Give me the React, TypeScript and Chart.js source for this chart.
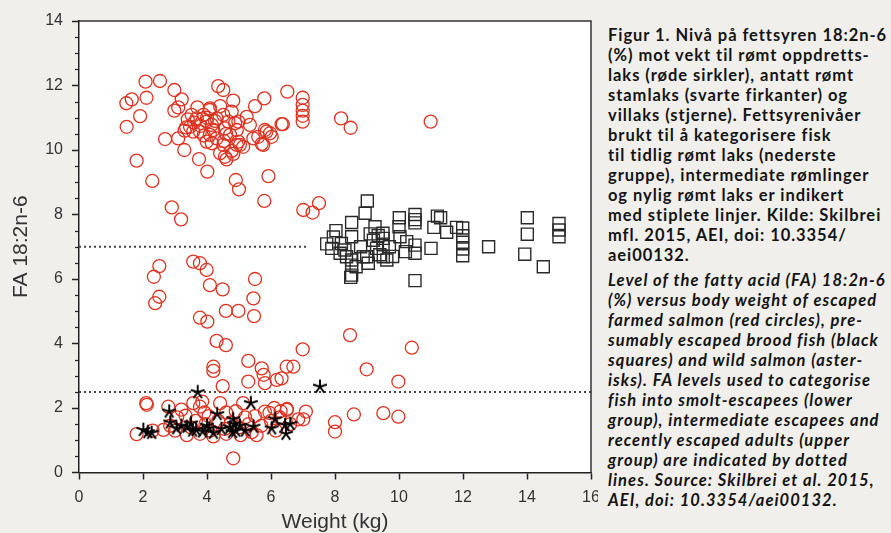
import React, { useEffect, useRef } from 'react';
import { Chart, registerables } from 'chart.js';

Chart.register(...registerables);

// ---------- data (weight kg, FA 18:2n-6 %) ----------
const farmedUpper: [number, number][] = [
  [1.48, 11.45], [1.65, 11.57], [1.49, 10.72], [1.91, 11.05], [2.08, 12.12], [2.53, 12.14],
  [2.11, 11.62], [1.8, 9.67], [2.29, 9.04], [2.69, 10.34], [2.98, 11.86], [3.21, 11.57],
  [2.98, 11.22], [3.1, 11.32], [3.1, 10.36], [3.29, 10.0], [2.9, 8.22], [3.19, 7.85],
  [3.75, 9.72], [4.01, 9.33], [3.7, 11.32], [4.35, 11.98], [4.51, 11.86], [4.82, 11.53],
  [4.41, 11.36], [4.09, 11.29], [5.5, 11.36], [5.79, 11.6], [6.33, 10.8], [6.02, 10.41],
  [5.86, 10.57], [5.71, 10.19], [5.45, 10.36], [5.92, 9.19], [5.79, 8.42], [4.9, 9.07],
  [5.0, 8.78], [4.61, 9.71], [4.82, 9.88], [4.41, 9.9], [5.13, 10.1], [4.98, 10.26],
  [4.15, 10.21], [4.53, 10.28], [6.51, 11.81], [6.99, 11.62], [6.99, 11.4], [6.99, 11.22],
  [6.99, 11.06], [6.99, 10.88], [6.37, 10.8], [8.19, 10.98], [8.49, 10.69], [10.99, 10.88],
  [7.01, 8.14], [7.3, 8.06], [7.5, 8.35],
  [3.52, 11.09], [3.68, 10.98], [3.47, 10.72], [3.57, 10.57], [3.89, 11.09], [3.99, 10.88],
  [4.09, 11.24], [4.15, 10.78], [4.3, 10.98], [4.51, 11.09], [4.56, 10.67], [4.67, 10.88],
  [4.72, 10.47], [4.77, 11.19], [4.88, 10.83], [4.93, 10.62], [4.09, 10.47], [4.3, 10.36],
  [4.51, 10.16], [4.56, 9.79], [4.77, 9.97], [4.93, 10.16], [3.99, 10.26], [3.78, 10.57],
  [4.2, 10.62], [4.98, 10.88], [5.24, 11.03], [5.34, 10.78], [5.6, 10.41], [5.81, 10.62],
  [5.97, 10.52], [5.76, 10.16], [5.03, 10.16], [3.8, 10.75], [3.9, 10.45], [4.25, 10.9],
  [4.6, 10.5], [3.6, 10.85], [4.0, 11.0], [3.3, 10.6], [3.35, 10.7], [3.4, 10.95],
];

const farmedMiddle: [number, number][] = [
  [2.51, 6.4], [2.34, 6.07], [2.51, 5.45], [2.38, 5.25], [3.57, 6.54], [3.78, 6.49],
  [3.99, 6.28], [4.09, 5.81], [4.49, 5.68], [3.78, 4.8], [4.01, 4.68], [4.59, 5.01],
  [4.98, 5.01], [5.5, 6.0], [5.45, 5.4], [5.47, 4.85], [4.3, 4.08], [4.59, 3.95],
  [4.2, 3.28], [4.2, 3.15], [5.29, 3.46], [4.49, 2.68], [5.29, 2.82], [5.71, 3.23],
  [5.77, 3.03], [5.81, 2.77], [6.18, 2.87], [6.33, 2.92], [6.49, 3.28], [6.7, 3.28],
  [6.99, 3.82], [8.47, 4.26], [10.4, 3.87], [8.99, 3.2], [9.98, 2.82],
];

const farmedLower: [number, number][] = [
  [2.1, 2.15], [2.12, 2.1], [1.8, 1.19], [2.64, 1.32], [2.79, 2.04], [3.07, 1.71],
  [3.33, 1.76], [3.57, 2.15], [3.78, 2.04], [3.92, 1.86], [4.41, 2.15], [4.6, 1.86],
  [5.13, 2.15], [5.19, 1.71], [5.55, 1.16], [5.81, 1.89], [6.27, 1.71], [6.5, 1.97],
  [3.37, 1.16], [3.78, 1.2], [4.2, 1.12], [5.05, 1.16], [4.82, 0.44], [6.3, 1.9],
  [6.49, 1.94], [6.85, 1.65], [7.01, 1.65], [7.09, 1.89], [8.0, 1.56], [8.0, 1.27],
  [8.59, 1.8], [9.51, 1.84], [9.98, 1.73], [2.85, 1.45], [3.0, 1.3], [3.5, 1.4],
  [3.65, 1.6], [3.95, 1.5], [4.1, 1.3], [4.35, 1.6], [4.55, 1.35], [4.75, 1.55],
  [5.0, 1.4], [5.3, 1.5], [5.5, 1.75], [5.7, 1.45], [6.0, 1.6], [6.15, 1.3],
  [6.6, 1.5], [3.2, 1.95], [4.05, 1.75], [4.9, 1.9], [5.95, 1.85], [2.3, 1.3],
  [4.6, 1.2], [5.4, 1.25], [3.85, 2.2], [6.1, 2.0],
];

const broodFish: [number, number][] = [
  [9.01, 8.42], [8.94, 8.04], [8.52, 7.75], [8.03, 7.5], [7.74, 7.09], [8.52, 7.31],
  [9.25, 7.62], [9.5, 7.42], [9.5, 7.26], [9.5, 7.08], [10.01, 7.9], [10.5, 8.0],
  [10.5, 7.84], [10.5, 7.74], [11.2, 7.95], [11.09, 7.6], [11.49, 7.45], [11.8, 7.6],
  [11.99, 7.58], [11.99, 7.34], [11.99, 7.14], [11.99, 6.93], [11.99, 6.72], [12.8, 7.0],
  [14.01, 7.9], [14.01, 7.39], [13.93, 6.77], [14.51, 6.38], [15.0, 7.72], [15.0, 7.52],
  [15.0, 7.31], [10.0, 7.62], [10.03, 7.31], [10.24, 7.16], [10.5, 7.05], [10.5, 6.8],
  [11.0, 6.95], [10.5, 5.95], [7.95, 7.3], [7.9, 6.95], [8.31, 6.9], [8.16, 6.8],
  [8.36, 6.69], [8.52, 6.59], [8.52, 6.43], [8.52, 6.12], [8.99, 6.69], [9.04, 6.49],
  [9.62, 6.59], [9.1, 7.4], [9.2, 7.2], [9.3, 6.95], [9.4, 6.75], [8.49, 6.05],
  [8.66, 6.38], [8.8, 7.0], [9.7, 7.0], [9.8, 6.7], [10.2, 6.85], [11.3, 7.9],
  [8.2, 7.1], [9.35, 7.35], [8.88, 6.69], [9.51, 6.69],
];

const wildSalmon: [number, number][] = [
  [2.01, 1.32], [2.27, 1.23], [2.15, 1.25], [3.71, 2.49], [5.37, 2.15], [2.82, 1.89],
  [4.32, 1.81], [4.82, 1.65], [6.13, 1.65], [2.85, 1.55], [3.05, 1.37], [3.37, 1.42],
  [3.5, 1.52], [3.66, 1.32], [3.86, 1.27], [4.07, 1.37], [4.2, 1.23], [4.72, 1.4],
  [4.85, 1.5], [4.9, 1.3], [5.03, 1.45], [5.45, 1.42], [6.02, 1.37], [6.47, 1.2],
  [6.44, 1.47], [6.6, 1.5], [7.53, 2.66], [3.2, 1.45], [4.45, 1.35], [5.2, 1.3],
  [4.0, 1.45], [3.55, 1.3], [4.8, 1.25],
];

const upperThreshold: [number, number][] = [[0, 7], [7.1, 7]];
const lowerThreshold: [number, number][] = [[0, 2.5], [16, 2.5]];

const xTickValues = [0, 2, 4, 6, 8, 10, 12, 14, 16];
const yTickValues = [0, 2, 4, 6, 8, 10, 12, 14];
const yMinorTickValues = [0.5, 1, 1.5, 2.5, 3, 3.5, 4.5, 5, 5.5, 6.5, 7, 7.5, 8.5, 9, 9.5, 10.5, 11, 11.5, 12.5, 13, 13.5];

const xTitle = 'Weight (kg)';
const yTitle = 'FA 18:2n-6';

const captionNo = [
  'Figur 1. Nivå på fettsyren 18:2n-6',
  '(%) mot vekt til rømt oppdretts-',
  'laks (røde sirkler), antatt rømt',
  'stamlaks (svarte firkanter) og',
  'villaks (stjerne). Fettsyrenivåer',
  'brukt til å kategorisere fisk',
  'til tidlig rømt laks (nederste',
  'gruppe), intermediate rømlinger',
  'og nylig rømt laks er indikert',
  'med stiplete linjer. Kilde: Skilbrei',
  'mfl. 2015, AEI, doi: 10.3354/',
  'aei00132.',
];

const captionEn = [
  'Level of the fatty acid (FA) 18:2n-6',
  '(%) versus body weight of escaped',
  'farmed salmon (red circles), pre-',
  'sumably escaped brood fish (black',
  'squares) and wild salmon (aster-',
  'isks). FA levels used to categorise',
  'fish into smolt-escapees (lower',
  'group), intermediate escapees and',
  'recently escaped adults (upper',
  'group) are indicated by dotted',
  'lines. Source: Skilbrei et al. 2015,',
  'AEI, doi: 10.3354/aei00132.',
];

const BG = '#f0efeb';
const FONT = "'Liberation Sans', Arial, sans-serif";

function toPts(a: [number, number][]) {
  return a.map(([x, y]) => ({ x, y }));
}

function makeAsterisk(size: number, color: string, lw: number) {
  const c = document.createElement('canvas');
  c.width = size;
  c.height = size;
  const ctx = c.getContext('2d')!;
  ctx.strokeStyle = color;
  ctx.lineWidth = lw;
  const r = size / 2 - 0.8;
  const cx = size / 2;
  ctx.beginPath();
  for (let i = 0; i < 5; i++) {
    const a = -Math.PI / 2 + (i * 2 * Math.PI) / 5;
    ctx.moveTo(cx, cx);
    ctx.lineTo(cx + r * Math.cos(a), cx + r * Math.sin(a));
  }
  ctx.stroke();
  return c;
}

const framePlugin = {
  id: 'framePlugin',
  beforeDraw(chart: any) {
    const { ctx, chartArea: a } = chart;
    ctx.save();
    ctx.fillStyle = '#ffffff';
    ctx.fillRect(a.left, a.top, a.right - a.left, a.bottom - a.top);
    ctx.restore();
  },
  afterDraw(chart: any) {
    const { ctx, chartArea: a, scales } = chart;
    ctx.save();
    ctx.strokeStyle = '#333';
    ctx.lineWidth = 1.5;
    ctx.beginPath();
    ctx.moveTo(a.left, a.top);
    ctx.lineTo(a.right, a.top);
    ctx.lineTo(a.right, a.bottom);
    ctx.stroke();
    ctx.strokeStyle = '#222';
    ctx.lineWidth = 1.2;
    for (const v of yMinorTickValues) {
      const py = Math.round(scales.y.getPixelForValue(v)) + 0.5;
      ctx.beginPath();
      ctx.moveTo(a.left - 4, py);
      ctx.lineTo(a.left, py);
      ctx.stroke();
    }
    ctx.restore();
  },
};

export default function App() {
  const ref = useRef<HTMLCanvasElement | null>(null);

  useEffect(() => {
    if (!ref.current) return;
    const star = makeAsterisk(16, '#000', 1.9);
    const chart = new Chart(ref.current, {
      type: 'scatter',
      data: {
        datasets: [
          {
            label: 'wild',
            data: toPts(wildSalmon),
            pointStyle: star as any,
            pointRadius: 8,
          },
          {
            label: 'brood',
            data: toPts(broodFish),
            pointStyle: 'rect',
            pointRadius: 8.5,
            borderColor: '#2a2a2a',
            backgroundColor: 'rgba(0,0,0,0)',
            borderWidth: 1.4,
          },
          {
            label: 'farmed',
            data: toPts([...farmedUpper, ...farmedMiddle, ...farmedLower]),
            pointStyle: 'circle',
            pointRadius: 6.5,
            borderColor: '#dc3320',
            backgroundColor: 'rgba(0,0,0,0)',
            borderWidth: 1.3,
          },
          {
            type: 'line' as any,
            label: 'upper',
            data: toPts(upperThreshold),
            showLine: true,
            pointRadius: 0,
            borderColor: '#444',
            borderWidth: 2,
            borderDash: [2, 3],
            fill: false,
          },
          {
            type: 'line' as any,
            label: 'lower',
            data: toPts(lowerThreshold),
            showLine: true,
            pointRadius: 0,
            borderColor: '#444',
            borderWidth: 2,
            borderDash: [2, 3],
            fill: false,
          },
        ],
      },
      options: {
        animation: false,
        responsive: false,
        maintainAspectRatio: false,
        layout: { padding: { top: 21, right: 29, left: 0, bottom: 0 } },
        plugins: { legend: { display: false }, tooltip: { enabled: false } },
        scales: {
          x: {
            type: 'linear',
            min: 0,
            max: 16,
            afterBuildTicks: (s: any) => {
              s.ticks = xTickValues.map((v) => ({ value: v }));
            },
            afterFit: (s: any) => {
              s.height = 60.5;
            },
            ticks: {
              font: { size: 16, family: FONT },
              color: '#333',
              padding: 8,
              maxRotation: 0,
              autoSkip: false,
            },
            grid: { drawOnChartArea: false, tickLength: 7, tickColor: '#222', tickWidth: 1.5 },
            border: { color: '#222', width: 1.5 },
            title: {
              display: true,
              text: xTitle,
              color: '#333',
              font: { size: 21, family: FONT, lineHeight: 1 },
              padding: { top: 0, bottom: 0 },
            },
          },
          y: {
            type: 'linear',
            min: 0,
            max: 14,
            afterBuildTicks: (s: any) => {
              s.ticks = yTickValues.map((v) => ({ value: v }));
            },
            afterFit: (s: any) => {
              s.width = 79;
            },
            ticks: {
              font: { size: 16, family: FONT },
              color: '#333',
              padding: 9,
              autoSkip: false,
            },
            grid: { drawOnChartArea: false, tickLength: 7, tickColor: '#222', tickWidth: 1.5 },
            border: { color: '#222', width: 1.5 },
            title: {
              display: true,
              text: yTitle,
              color: '#333',
              font: { size: 21, family: FONT, lineHeight: 1 },
              padding: { top: 11, bottom: 0 },
            },
          },
        },
      },
      plugins: [framePlugin],
    });
    return () => chart.destroy();
  }, []);

  const textStyle: React.CSSProperties = {
    fontFamily: "Lato, 'Open Sans', sans-serif",
    fontSize: '16.5px',
    lineHeight: '20px',
    color: '#141414',
    whiteSpace: 'pre',
    margin: 0,
  };

  return (
    <div
      style={{
        position: 'fixed',
        left: 0,
        top: 0,
        width: 891,
        height: 533,
        background: BG,
        overflow: 'hidden',
      }}
    >
      <canvas
        ref={ref}
        width={620}
        height={533}
        style={{ position: 'absolute', left: 0, top: 0, width: 620, height: 533, display: 'block' }}
      />
      <div
        style={{
          position: 'absolute',
          left: 598,
          top: 0,
          width: 293,
          height: 533,
          background: BG,
          paddingLeft: 10,
          boxSizing: 'border-box',
        }}
      >
        <p style={{ ...textStyle, fontWeight: 700, letterSpacing: '0.95px', marginTop: 25 }}>{captionNo.join('\n')}</p>
        <p style={{ ...textStyle, fontWeight: 700, fontStyle: 'italic', letterSpacing: '1.05px', marginTop: 5 }}>
          {captionEn.join('\n')}
        </p>
      </div>
    </div>
  );
}
